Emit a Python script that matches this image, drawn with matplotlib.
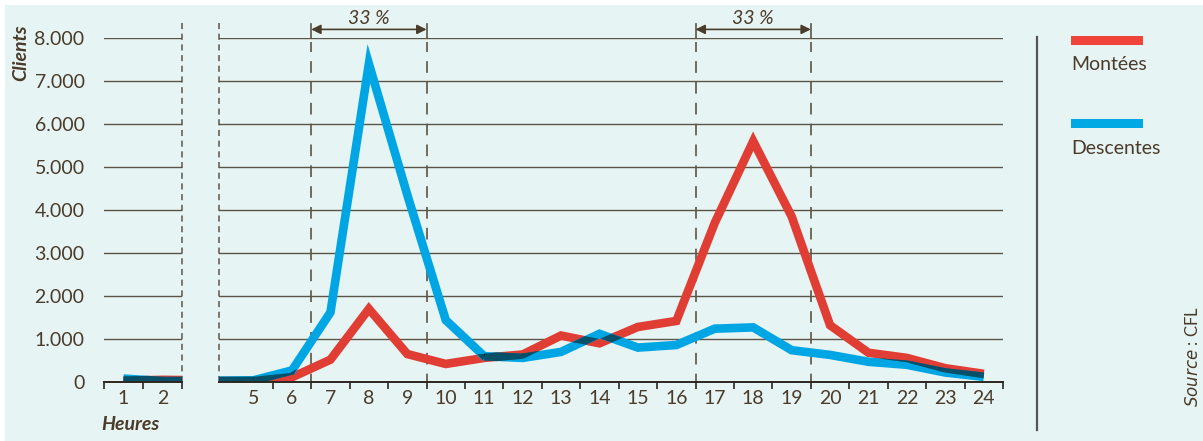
import numpy as np
import matplotlib
matplotlib.use("Agg")
import matplotlib.pyplot as plt
from matplotlib.collections import LineCollection
from matplotlib.patches import Rectangle

# data
hours = list(range(1, 25))
montees = [30, 50, 40, 20, 20, 110, 520, 1700, 650, 420, 560, 640,
           1080, 900, 1280, 1420, 3700, 5600, 3850, 1320, 680, 560, 320, 190]
descentes = [80, 20, 20, 30, 40, 270, 1620, 7400, 4350, 1440, 600, 560,
             700, 1120, 800, 860, 1240, 1270, 740, 630, 470, 400, 220, 120]
y_ticks = [0, 1000, 2000, 3000, 4000, 5000, 6000, 7000, 8000]
y_labels = ["0", "1.000", "2.000", "3.000", "4.000", "5.000", "6.000", "7.000", "8.000"]
left_hours = [1, 2]
right_hours = list(range(5, 25))
peaks = [(6.5, 9.5, "33 %"), (16.5, 19.5, "33 %")]

RED = "#e03e35"
BLUE = "#00a6e4"
DARK = "#0b2a31"
TXT = "#4a3b2a"
GRID = "#5c5446"
BG = "#e6f4f3"
LW = 6.2
FS = 14

plt.rcParams['font.family'] = ['Lato', 'DejaVu Sans']

W, H = 1203, 441
fig = plt.figure(figsize=(W / 100, H / 100), dpi=100)
fig.patch.set_facecolor("white")
fig.add_artist(Rectangle((5 / W, 0), 1, (H - 5) / H, transform=fig.transFigure,
                         facecolor=BG, edgecolor="none", zorder=-10))


def fx(px):
    return px / W


def fy(py):
    return (H - py) / H


bottom = fy(382)
height = (382 - 38) / H
ax_l = fig.add_axes([fx(104), bottom, fx(182 - 104), height])
ax_r = fig.add_axes([fx(219), bottom, fx(1003 - 219), height])
ax_l.set_xlim(0.5, 2.5)
ax_r.set_xlim(4.1, 24.5)


def overlap(ax, x, a, b, lw):
    # dark band where the two thick strokes cover each other
    xs = np.linspace(x[0], x[-1], 4000)
    ya = np.interp(xs, x, a)
    yb = np.interp(xs, x, b)
    pa = ax.transData.transform(np.column_stack([xs, ya]))
    pb = ax.transData.transform(np.column_stack([xs, yb]))
    pm = (pa + pb) / 2
    slope = np.gradient(pm[:, 1], pm[:, 0])
    d = np.abs(pa[:, 1] - pb[:, 1]) * np.cos(np.arctan(slope))
    w = lw * 100 / 72 - d
    mid = np.column_stack([xs, (ya + yb) / 2])
    segs, widths = [], []
    for i in range(len(xs) - 1):
        ww = min(w[i], w[i + 1])
        if ww > 0:
            segs.append([mid[i], mid[i + 1]])
            widths.append(ww * 72 / 100)
    lc = LineCollection(segs, linewidths=widths, colors=DARK, zorder=4,
                        capstyle="butt")
    ax.add_collection(lc)


for ax in (ax_l, ax_r):
    ax.set_facecolor("none")
    ax.set_ylim(0, 8000)
    ax.set_yticks(y_ticks)
    ax.grid(axis="y", color=GRID, lw=1.0)
    ax.set_axisbelow(True)
    for s in ("top", "right", "left"):
        ax.spines[s].set_visible(False)
    ax.spines["bottom"].set_color("#2b2620")
    ax.spines["bottom"].set_linewidth(1.4)
    ax.spines["bottom"].set_zorder(5)
    ax.plot(hours, montees, color=RED, lw=LW, solid_joinstyle="miter",
            solid_capstyle="butt", zorder=3)
    ax.plot(hours, descentes, color=BLUE, lw=LW, solid_joinstyle="miter",
            solid_capstyle="butt", zorder=3)
    ax.tick_params(axis="x", which="major", length=5, width=1.2, color="#2b2620",
                   labelbottom=False)
    ax.tick_params(axis="x", which="minor", length=0, pad=6, labelsize=FS,
                   labelcolor=TXT)
    ax.tick_params(axis="y", length=0)

ax_l.set_yticklabels(y_labels, fontsize=FS, color=TXT)
ax_l.tick_params(axis="y", pad=14)
ax_r.tick_params(axis="y", labelleft=False)

ax_l.set_xticks([0.5, 1.5, 2.5])
ax_l.set_xticks(left_hours, minor=True)
ax_l.set_xticklabels([str(h) for h in left_hours], minor=True)
ax_r.set_xticks([h + 0.5 for h in right_hours])
ax_r.set_xticks(right_hours, minor=True)
ax_r.set_xticklabels([str(h) for h in right_hours], minor=True)

overlap(ax_l, hours, montees, descentes, LW)
overlap(ax_r, hours, montees, descentes, LW)

# break lines
ax_l.plot([2.5, 2.5], [0, 8350], color=GRID, lw=1.1, ls=(0, (4, 3)), clip_on=False, zorder=2)
ax_r.plot([4.1, 4.1], [0, 8350], color=GRID, lw=1.1, ls=(0, (4, 3)), clip_on=False, zorder=2)

# peak period markers
for x0, x1, lab in peaks:
    for xx in (x0, x1):
        ax_r.plot([xx, xx], [0, 7900], color=GRID, lw=1.2, ls=(2, (7, 5.5)),
                  zorder=2, clip_on=False)
        ax_r.plot([xx, xx], [8000, 8330], color=GRID, lw=1.2, clip_on=False, zorder=2)
    ax_r.annotate("", xy=(x0, 8200), xytext=(x1, 8200), annotation_clip=False,
                  arrowprops=dict(arrowstyle="<|-|>", color="#4a3b2a", lw=1.2,
                                  shrinkA=0, shrinkB=0, mutation_scale=14))
    ax_r.text((x0 + x1) / 2, 8450, lab, ha="center", va="center", fontsize=FS,
              style="italic", color=TXT, clip_on=False)

# axis titles
fig.text(fx(21), fy(53), "Clients", rotation=90, ha="center", va="center",
         fontsize=FS, style="italic", fontweight="bold", color=TXT)
fig.text(fx(101), fy(425), "Heures", ha="left", va="center",
         fontsize=FS, style="italic", fontweight="bold", color=TXT)

# separator and legend
fig.add_artist(plt.Line2D([fx(1037), fx(1037)], [fy(37), fy(430)], color="#555555",
                          lw=1.6, transform=fig.transFigure))
fig.add_artist(Rectangle((fx(1071), fy(45)), fx(72), 9 / H, transform=fig.transFigure,
                         facecolor="#f0443a", edgecolor="none"))
fig.text(fx(1071), fy(65), "Montées", ha="left", va="center", fontsize=FS, color=TXT)
fig.add_artist(Rectangle((fx(1071), fy(128)), fx(72), 9 / H, transform=fig.transFigure,
                         facecolor="#00a8e4", edgecolor="none"))
fig.text(fx(1071), fy(149), "Descentes", ha="left", va="center", fontsize=FS, color=TXT)

fig.text(fx(1192), fy(357), "$\\it{Source}$ : CFL", rotation=90, ha="center", va="center",
         fontsize=12, color=TXT)

fig.savefig("out.png", dpi=100)
